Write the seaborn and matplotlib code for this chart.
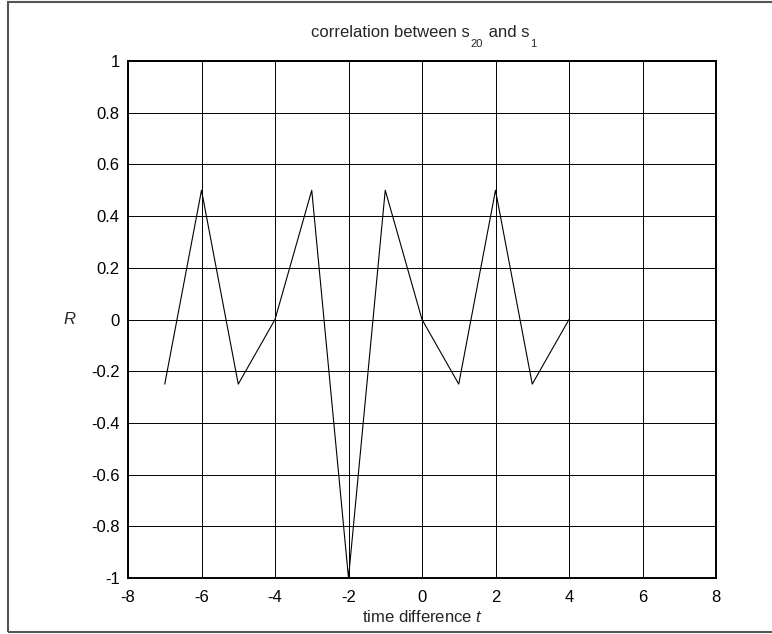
import seaborn as sns
import matplotlib.pyplot as plt
from matplotlib.patches import Rectangle
import pandas as pd

# Data
time_diff = [-7, -6, -5, -4, -3, -2, -1, 0, 1, 2, 3, 4]
r_values = [-0.25, 0.5, -0.25, 0, 0.5, -1, 0.5, 0, -0.25, 0.5, -0.25, 0]

x_ticks = [-8, -6, -4, -2, 0, 2, 4, 6, 8]
x_tick_labels = ["-8", "-6", "-4", "-2", "0", "2", "4", "6", "8"]
y_ticks = [-1, -0.8, -0.6, -0.4, -0.2, 0, 0.2, 0.4, 0.6, 0.8, 1]
y_tick_labels = ["-1", "-0.8", "-0.6", "-0.4", "-0.2", "0", "0.2", "0.4", "0.6", "0.8", "1"]

# title pieces: (text, is_subscript)
title_parts = [("correlation between s", False), ("20", True), (" and s", False), ("1", True)]

df = pd.DataFrame({"t": time_diff, "R": r_values})

sns.set_style("white")
plt.rcParams["font.family"] = ["Liberation Sans", "DejaVu Sans"]
plt.rcParams["mathtext.fontset"] = "custom"
plt.rcParams["mathtext.rm"] = "Liberation Sans"
plt.rcParams["mathtext.it"] = "Liberation Sans:italic"
plt.rcParams["axes.unicode_minus"] = False

W, H = 772, 634
fig = plt.figure(figsize=(W / 100, H / 100), dpi=100)
ax = fig.add_axes([128 / W, 1 - 578 / H, 588 / W, 517 / H])

sns.lineplot(data=df, x="t", y="R", color="black", linewidth=0.8, ax=ax)

ax.set_xlim(-8, 8)
ax.set_ylim(-1, 1)
ax.set_xticks(x_ticks)
ax.set_xticklabels(x_tick_labels)
ax.set_yticks(y_ticks)
ax.set_yticklabels(y_tick_labels)
ax.tick_params(direction="in", length=4, width=0.8, colors="black", labelsize=12)
ax.tick_params(axis="x", pad=9)
ax.tick_params(axis="y", pad=6)

# solid black grid, like the old matlab figure
ax.grid(True, color="black", linewidth=0.7, linestyle="-")

for side in ["top", "bottom", "left", "right"]:
    ax.spines[side].set_visible(True)
    ax.spines[side].set_color("black")
    ax.spines[side].set_linewidth(1.4)

ax.set_xlabel(r"time difference $t$", fontsize=12, va="center")
ax.xaxis.set_label_coords(0.5, (578 - 617) / 517)
ax.set_ylabel(r"$R$", fontsize=12, rotation=0, ha="center", va="center")
ax.yaxis.set_label_coords((70 - 128) / 588, 0.5)

# Title built from pieces so the subscripts sit low, matlab style
fig.canvas.draw()
renderer = fig.canvas.get_renderer()
texts = []
for txt, sub in title_parts:
    t = fig.text(0, 0, txt, fontsize=8 if sub else 12, ha="left", va="baseline")
    texts.append((t, sub))
widths = [t.get_window_extent(renderer).width for t, _ in texts]
x_px = 422 - sum(widths) / 2
base_px = H - 37
for (t, sub), w in zip(texts, widths):
    y_px = base_px - 10 if sub else base_px
    t.set_position((x_px / W, y_px / H))
    x_px += w + (1 if sub else 1)

# outer frame around the figure
fig.patches.append(Rectangle((8 / W, 2 / H), 1.0, 1 - 4 / H,
                             transform=fig.transFigure, fill=False,
                             edgecolor="#555555", linewidth=1.5))

plt.savefig("out.png", dpi=100)
